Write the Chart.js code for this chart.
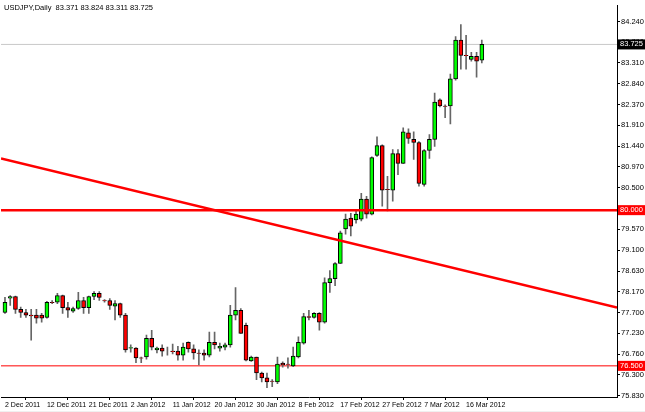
<!DOCTYPE html>
<html>
<head>
<meta charset="utf-8">
<script src="https://cdn.jsdelivr.net/npm/chart.js@4"></script>
<style>
  html, body { margin: 0; padding: 0; background: #fff; }
  #wrap { width: 645px; height: 412px; position: relative; }
</style>
</head>
<body>
<div id="wrap"><canvas id="c"></canvas></div>
<script>
// USDJPY daily candles
const open  = [77.70,78.02,78.06,77.77,77.70,77.64,77.64,77.64,77.59,77.93,77.93,78.08,77.81,77.73,77.79,77.97,77.81,78.06,78.13,77.97,77.97,77.84,77.90,77.64,76.90,76.90,76.68,76.70,77.12,76.86,76.90,76.83,76.83,76.83,76.74,77.03,76.88,76.79,76.79,76.74,77.03,76.90,76.92,76.97,77.64,77.75,77.41,76.61,76.70,76.34,76.23,76.16,76.14,76.56,76.54,76.50,76.70,77.01,77.61,77.59,77.68,77.48,78.37,78.46,78.80,79.58,79.82,79.78,79.80,80.25,79.91,81.23,81.45,80.47,80.45,81.27,81.05,81.74,81.59,81.52,80.58,81.34,81.59,82.48,82.34,82.34,82.95,83.82,83.48,83.39,83.46,83.371];
const close = [77.93,78.06,77.77,77.70,77.64,77.62,77.57,77.57,77.93,77.92,78.08,77.81,77.75,77.79,77.97,77.81,78.06,78.13,78.04,77.96,77.86,77.90,77.64,76.86,76.91,76.68,76.67,77.12,76.92,76.90,76.83,76.83,76.82,76.74,76.92,76.88,76.79,76.78,76.74,77.03,76.97,76.94,76.97,77.64,77.75,77.23,76.63,76.70,76.34,76.23,76.14,76.15,76.54,76.52,76.53,76.72,77.03,77.61,77.59,77.68,77.48,78.37,78.46,78.80,79.49,79.80,79.64,79.91,80.25,79.91,81.18,81.45,80.45,80.46,81.27,81.05,81.76,81.61,81.52,80.60,81.34,81.59,82.43,82.34,82.33,82.95,83.82,83.48,83.47,83.46,83.35,83.725];
const high  = [78.04,78.08,78.07,77.82,77.77,77.77,77.77,77.68,77.95,77.97,78.13,78.09,77.93,77.82,78.15,78.04,78.07,78.17,78.17,77.99,78.01,77.97,77.91,77.68,76.97,76.91,76.70,77.19,77.30,76.92,76.97,76.92,76.99,76.94,77.01,77.04,76.97,76.86,76.86,77.26,77.26,77.01,77.01,77.86,78.26,77.79,77.46,76.72,76.70,76.36,76.34,76.19,76.70,76.59,76.68,76.92,77.15,77.68,77.75,77.70,77.70,78.48,78.64,78.82,79.53,79.91,79.93,80.02,80.38,80.31,81.20,81.65,81.47,80.76,81.36,81.36,81.85,81.83,81.76,81.54,81.36,81.70,82.63,82.50,82.37,83.06,83.90,84.17,83.93,83.55,83.55,83.824];
const low   = [77.68,77.86,77.68,77.59,77.59,77.08,77.46,77.48,77.57,77.90,77.90,77.68,77.59,77.70,77.77,77.68,77.68,77.99,77.97,77.93,77.77,77.53,77.59,76.81,76.81,76.57,76.57,76.65,76.86,76.79,76.72,76.74,76.77,76.63,76.63,76.81,76.65,76.52,76.63,76.70,76.88,76.83,76.86,76.92,77.53,77.23,76.61,76.60,76.19,76.14,76.01,76.03,76.10,76.47,76.45,76.48,76.68,76.99,77.53,77.57,77.30,77.46,78.15,78.30,78.80,79.46,79.42,79.71,79.76,79.82,79.89,81.21,80.09,79.98,80.20,80.80,81.05,81.50,81.14,80.54,80.54,81.16,81.43,82.32,82.08,81.94,82.92,83.17,83.17,83.35,82.99,83.311];

const dateLabels = ['2 Dec 2011','12 Dec 2011','21 Dec 2011','2 Jan 2012','11 Jan 2012','20 Jan 2012','30 Jan 2012','8 Feb 2012','17 Feb 2012','27 Feb 2012','7 Mar 2012','16 Mar 2012'];
const priceTicks = [84.24,83.78,83.31,82.84,82.37,81.91,81.44,80.97,80.50,80.03,79.57,79.10,78.63,78.17,77.70,77.23,76.76,76.30,75.83];
const levels = [80.000, 76.500];
const lastPrice = 83.725;
const trendline = [{x: -0.76, y: 81.16}, {x: 116.8, y: 77.81}];
const title = 'USDJPY,Daily  83.371 83.824 83.311 83.725';

const X_MIN = -0.76, X_MAX = 116.8;
const idx = open.map((_, i) => i);

const wickData = idx.map(i => ({x: i, y: [low[i], high[i]]}));
const bodyData = idx.map(i => ({x: i, y: [open[i], close[i]]}));
const bodyColors = idx.map(i => close[i] >= open[i] ? '#00ff00' : '#ff0000');

// boxes on the price axis + title
const priceBoxes = {
  id: 'priceBoxes',
  afterDraw(chart) {
    const {ctx, scales: {y}, chartArea} = chart;
    const boxes = [
      {v: lastPrice, bg: '#000', fg: '#fff'},
      {v: levels[0], bg: '#ff0000', fg: '#fff'},
      {v: levels[1], bg: '#ff0000', fg: '#fff'}
    ];
    ctx.save();
    ctx.font = '7.5px "Liberation Sans", Arial, sans-serif';
    ctx.textBaseline = 'middle';
    boxes.forEach(b => {
      const py = y.getPixelForValue(b.v);
      ctx.fillStyle = b.bg;
      ctx.fillRect(chartArea.right + 1, py - 5, 27, 10);
      ctx.fillStyle = b.fg;
      ctx.fillText(b.v.toFixed(3), chartArea.right + 3, py);
    });
    ctx.fillStyle = '#000';
    ctx.fillText(title, 4, 8);
    ctx.restore();
  }
};

const whiteBg = {
  id: 'whiteBg',
  beforeDraw(chart) {
    const {ctx, chartArea} = chart;
    ctx.save();
    ctx.fillStyle = '#fff';
    ctx.fillRect(0, 0, chart.width, chart.height);
    ctx.fillStyle = '#f0f0f0';
    ctx.fillRect(0, chartArea.bottom + 14, chart.width, chart.height);
    ctx.restore();
  }
};

new Chart(document.getElementById('c'), {
  type: 'bar',
  data: {
    datasets: [
      { type: 'line', data: [{x: X_MIN, y: lastPrice}, {x: X_MAX, y: lastPrice}], borderColor: '#c8c8c8', borderWidth: 1, pointRadius: 0, order: 5 },
      { type: 'line', data: [{x: X_MIN, y: levels[1]}, {x: X_MAX, y: levels[1]}], borderColor: '#ff0000', borderWidth: 1, pointRadius: 0, order: 4 },
      { data: wickData, backgroundColor: '#666', barThickness: 1, grouped: false, order: 3 },
      { data: bodyData, backgroundColor: bodyColors, borderColor: '#000', borderWidth: 1, borderSkipped: false, barThickness: 4, grouped: false, order: 2 },
      { type: 'line', data: [{x: X_MIN, y: levels[0]}, {x: X_MAX, y: levels[0]}], borderColor: '#ff0000', borderWidth: 2.5, pointRadius: 0, order: 1 },
      { type: 'line', data: trendline, borderColor: '#ff0000', borderWidth: 2.5, pointRadius: 0, order: 0 }
    ]
  },
  options: {
    responsive: true,
    maintainAspectRatio: false,
    animation: false,
    layout: { padding: { top: 3, left: 1, right: 0, bottom: 0 } },
    plugins: { legend: { display: false }, tooltip: { enabled: false } },
    scales: {
      x: {
        type: 'linear', min: X_MIN, max: X_MAX, offset: false,
        border: { color: '#000' },
        grid: { drawOnChartArea: false, tickLength: 3, color: '#000' },
        afterBuildTicks: s => { s.ticks = dateLabels.map((_, k) => ({value: k * 8})); },
        afterFit: s => { s.height = 15; },
        ticks: {
          autoSkip: false, maxRotation: 0, align: 'start', padding: 1,
          color: '#000', font: { size: 7, family: '"Liberation Sans", Arial, sans-serif' },
          callback: v => dateLabels[v / 8]
        }
      },
      y: {
        position: 'right', min: 75.80, max: 84.60,
        border: { color: '#000' },
        grid: { drawOnChartArea: false, tickLength: 3, color: '#000' },
        afterBuildTicks: s => { s.ticks = priceTicks.map(v => ({value: v})); },
        afterFit: s => { s.width = 28; },
        ticks: {
          padding: 1, color: '#000', font: { size: 7.5, family: '"Liberation Sans", Arial, sans-serif' },
          callback: v => v.toFixed(3)
        }
      }
    }
  },
  plugins: [whiteBg, priceBoxes]
});
</script>
</body>
</html>
